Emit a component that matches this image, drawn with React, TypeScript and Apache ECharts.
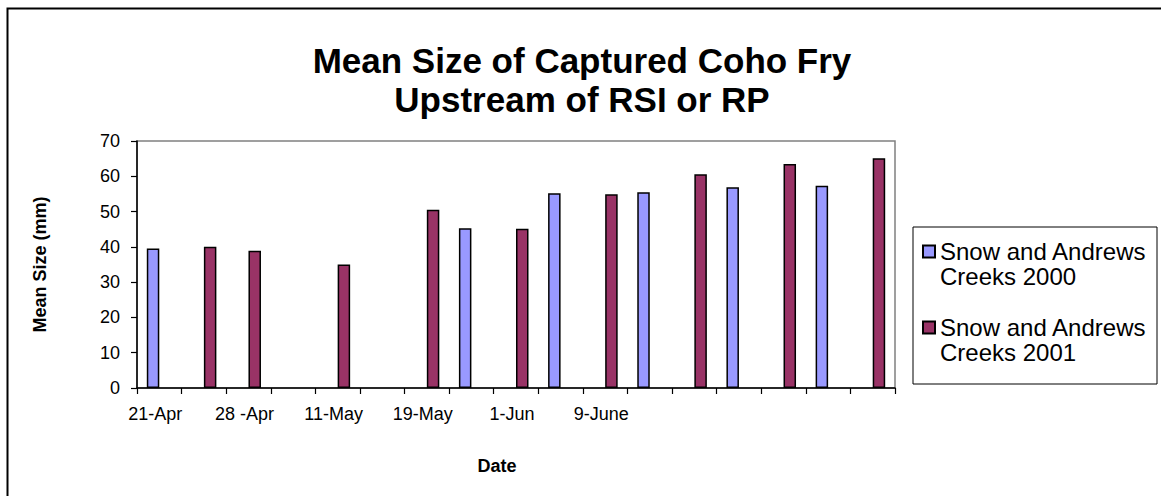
import React, { useEffect, useRef } from "react";
import * as echarts from "echarts";

const categories = ["21-Apr", "", "28 -Apr", "", "11-May", "", "19-May", "", "1-Jun", "", "9-June", "", "", "", "", "", ""];
const series2000Name = "Snow and Andrews Creeks 2000";
const series2001Name = "Snow and Andrews Creeks 2001";
const values2000 = [39.5, null, null, null, null, null, null, 45.3, null, 55.2, null, 55.5, null, 56.9, null, 57.3, null];
const values2001 = [null, 40.0, 38.9, null, 35.0, null, 50.5, null, 45.1, null, 54.9, null, 60.6, null, 63.5, null, 65.1];
const yTicks = { min: 0, max: 70, interval: 10 };

const FONT = 'Arial, "Liberation Sans", Helvetica, sans-serif';

export default function App() {
  const ref = useRef<HTMLDivElement>(null);
  useEffect(() => {
    if (!ref.current) return;
    const chart = echarts.init(ref.current, null, { renderer: "svg" });
    const lh = 25;
    chart.setOption({
      animation: false,
      backgroundColor: "#ffffff",
      textStyle: { fontFamily: FONT },
      title: {
        text: "Mean Size of Captured Coho Fry\nUpstream of RSI or RP",
        left: 577,
        top: 36,
        textAlign: "center",
        textStyle: { fontFamily: FONT, fontSize: 35, fontWeight: "bold", color: "#000", lineHeight: 39 },
      },
      legend: {
        orient: "vertical",
        left: 917,
        top: 209,
        itemWidth: 12,
        itemHeight: 12,
        itemGap: 1,
        selectedMode: false,
        icon: "rect",
        data: [series2000Name, series2001Name],
        formatter: (name: string) => "\n" + name.replace("Andrews ", "Andrews\n"),
        textStyle: { fontFamily: FONT, fontSize: 24, color: "#000", lineHeight: lh },
      },
      grid: {
        left: 137,
        right: 266,
        top: 141,
        bottom: 108,
        show: true,
        borderColor: "#808080",
        borderWidth: 1.5,
        containLabel: false,
      },
      xAxis: {
        type: "category",
        data: categories,
        boundaryGap: true,
        name: "Date",
        nameLocation: "middle",
        nameGap: 69,
        nameTextStyle: { fontFamily: FONT, fontSize: 18, fontWeight: "bold", color: "#000", padding: [0, 38, 0, 0] },
        axisLine: { show: true, lineStyle: { color: "#000", width: 1.5 } },
        axisTick: { show: true, interval: 0, length: 6, lineStyle: { color: "#000", width: 1.2 } },
        axisLabel: { interval: 1, margin: 17, fontFamily: FONT, fontSize: 18, color: "#000", padding: [0, 8, 0, 0] },
        splitLine: { show: false },
      },
      yAxis: {
        type: "value",
        min: yTicks.min,
        max: yTicks.max,
        interval: yTicks.interval,
        name: "Mean Size (mm)",
        nameLocation: "middle",
        nameGap: 88,
        nameTextStyle: { fontFamily: FONT, fontSize: 18, fontWeight: "bold", color: "#000" },
        axisLine: { show: true, lineStyle: { color: "#000", width: 1.5 } },
        axisTick: { show: true, length: 6, lineStyle: { color: "#000", width: 1.2 } },
        axisLabel: { margin: 17, fontFamily: FONT, fontSize: 18, color: "#000" },
        splitLine: { show: false },
      },
      series: [
        {
          name: series2000Name,
          type: "bar",
          data: values2000,
          barWidth: 12.5,
          barGap: "0%",
          itemStyle: { color: "#9999FF", borderColor: "#000", borderWidth: 1.5 },
        },
        {
          name: series2001Name,
          type: "bar",
          data: values2001,
          barWidth: 12.5,
          barGap: "0%",
          itemStyle: { color: "#993366", borderColor: "#000", borderWidth: 1.5 },
        },
      ],
      graphic: [
        {
          type: "rect",
          left: 5,
          top: 6,
          shape: { x: 0, y: 0, width: 1200, height: 600 },
          style: { fill: "none", stroke: "#000", lineWidth: 2 },
          silent: true,
        },
        {
          type: "rect",
          shape: { x: 913, y: 227, width: 244, height: 157 },
          style: { fill: "none", stroke: "#000", lineWidth: 1 },
          silent: true,
        },
      ],
    });
    return () => chart.dispose();
  }, []);
  return (
    <div
      ref={ref}
      style={{ position: "absolute", left: 0, top: 0, width: 1161, height: 496 }}
    />
  );
}
